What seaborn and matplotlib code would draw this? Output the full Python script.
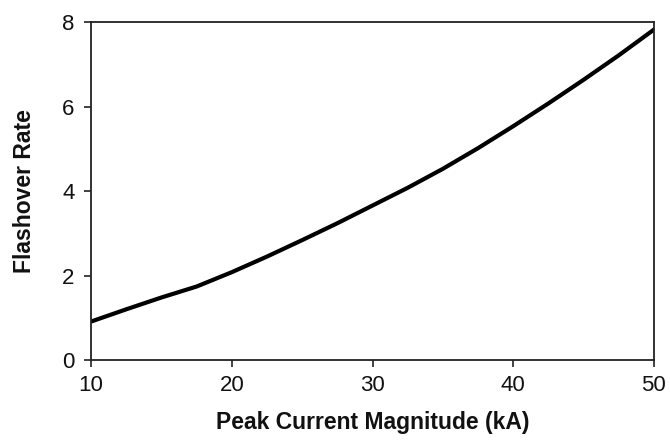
import matplotlib
matplotlib.use("Agg")
import matplotlib.pyplot as plt
import seaborn as sns
import pandas as pd

peak_current = [10, 12.5, 15, 17.5, 20, 22.5, 25, 27.5, 30, 32.5, 35, 37.5, 40, 42.5, 45, 47.5, 50]
flashover_rate = [0.91, 1.2, 1.48, 1.74, 2.08, 2.45, 2.84, 3.24, 3.66, 4.08, 4.53, 5.02, 5.54, 6.08, 6.64, 7.22, 7.83]

sns.set_theme(style="ticks")
plt.rcParams['font.family'] = ['Liberation Sans', 'DejaVu Sans']

df = pd.DataFrame({"x": peak_current, "y": flashover_rate})

fig = plt.figure(figsize=(6.7, 4.4), dpi=100)
ax = fig.add_axes([0.136, 0.182, 0.840, 0.767])
sns.lineplot(data=df, x="x", y="y", ax=ax, color="black", linewidth=3.0)

ax.set_xlim(10, 50)
ax.set_ylim(0, 8)
ax.set_xticks([10, 20, 30, 40, 50])
ax.set_yticks([0, 2, 4, 6, 8])
ax.tick_params(axis="both", labelsize=16, length=5, width=1.2, color="#222222",
               labelcolor="#111111")
ax.tick_params(axis="x", pad=6)
ax.tick_params(axis="y", pad=7)
for s in ax.spines.values():
    s.set_visible(True)
    s.set_color("#222222")
    s.set_linewidth(1.3)
ax.set_xlabel("Peak Current Magnitude (kA)", fontsize=16.5, fontweight="bold", color="#111111")
ax.set_ylabel("Flashover Rate", fontsize=16.5, fontweight="bold", color="#111111")
ax.xaxis.set_label_coords(0.5, -0.152)
ax.yaxis.set_label_coords(-0.098, 0.5)

fig.savefig("out.png", dpi=100, facecolor="white")
